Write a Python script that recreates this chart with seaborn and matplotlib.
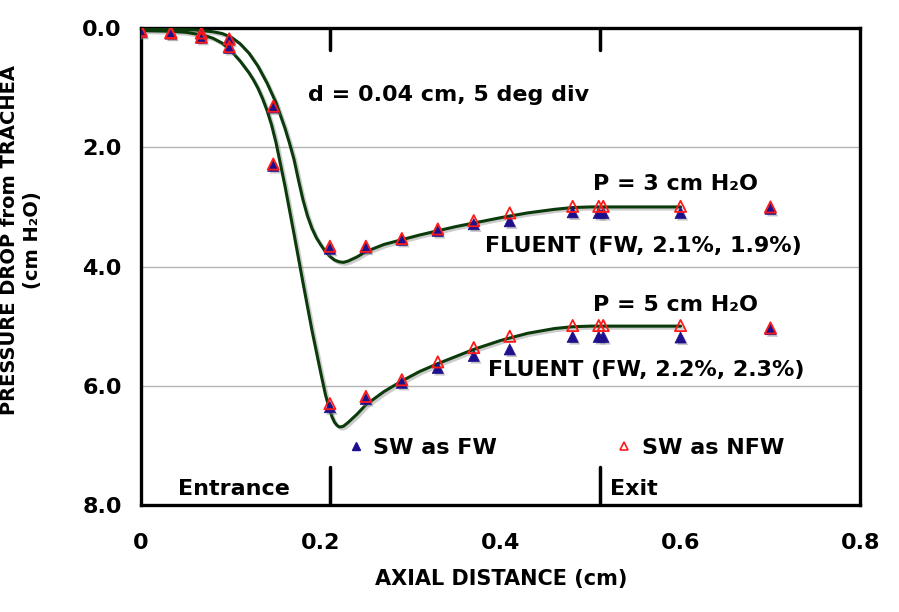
import matplotlib
matplotlib.use("Agg")
import matplotlib.pyplot as plt
import matplotlib.patheffects as pe
from matplotlib.lines import Line2D
import seaborn as sns

# FLUENT curves
fl3_x = [0.0, 0.03, 0.06, 0.08, 0.09, 0.10, 0.11, 0.12, 0.13, 0.14, 0.15, 0.16, 0.165,
         0.17, 0.175, 0.18, 0.185, 0.19, 0.195, 0.20, 0.205, 0.21, 0.215, 0.22, 0.225,
         0.23, 0.24, 0.25, 0.27, 0.29, 0.31, 0.33, 0.35, 0.37, 0.40, 0.43, 0.46, 0.48,
         0.50, 0.55, 0.60]
fl3_y = [0.02, 0.02, 0.03, 0.06, 0.09, 0.15, 0.26, 0.42, 0.64, 0.92, 1.25, 1.68, 1.93,
         2.20, 2.55, 2.88, 3.15, 3.36, 3.52, 3.64, 3.75, 3.83, 3.89, 3.92, 3.93,
         3.91, 3.84, 3.75, 3.63, 3.55, 3.47, 3.40, 3.33, 3.27, 3.18, 3.10, 3.04, 3.01,
         3.00, 3.00, 3.00]
fl5_x = [0.0, 0.03, 0.05, 0.07, 0.08, 0.09, 0.10, 0.11, 0.12, 0.125, 0.13, 0.135, 0.14,
         0.145, 0.15, 0.16, 0.17, 0.18, 0.19, 0.20, 0.205, 0.21, 0.2125, 0.215, 0.2175,
         0.22, 0.2225, 0.225, 0.23, 0.24, 0.25, 0.27, 0.29, 0.31, 0.33, 0.35, 0.37, 0.40,
         0.43, 0.46, 0.48, 0.50, 0.55, 0.60]
fl5_y = [0.04, 0.05, 0.07, 0.12, 0.17, 0.25, 0.38, 0.55, 0.75, 0.87, 1.01, 1.18, 1.38,
         1.62, 1.92, 2.65, 3.45, 4.27, 5.07, 5.80, 6.15, 6.42, 6.53, 6.61, 6.66,
         6.69, 6.69, 6.68, 6.62, 6.48, 6.32, 6.10, 5.92, 5.76, 5.63, 5.51, 5.39, 5.24,
         5.12, 5.04, 5.01, 5.00, 5.00, 5.00]

# SW points
pts_x = [0.0, 0.033, 0.067, 0.098, 0.147, 0.21, 0.25, 0.29, 0.33, 0.37, 0.41, 0.48,
         0.509, 0.514, 0.6, 0.7]
p3_fw = [0.05, 0.08, 0.09, 0.19, 1.33, 3.70, 3.68, 3.55, 3.40, 3.29, 3.24, 3.09,
         3.10, 3.10, 3.10, 3.03]
p3_nfw = [0.04, 0.07, 0.08, 0.18, 1.31, 3.66, 3.66, 3.53, 3.37, 3.23, 3.10, 2.99,
          2.99, 2.99, 2.99, 3.00]
p5_fw = [0.06, 0.09, 0.16, 0.33, 2.31, 6.36, 6.22, 5.95, 5.70, 5.50, 5.39, 5.18,
         5.18, 5.18, 5.19, 5.05]
p5_nfw = [0.05, 0.08, 0.15, 0.31, 2.28, 6.30, 6.18, 5.90, 5.60, 5.36, 5.17, 4.99,
          4.99, 4.99, 4.99, 5.03]

boundaries = [0.21, 0.51]
x_ticks = [0, 0.2, 0.4, 0.6, 0.8]
x_labels = ["0", "0.2", "0.4", "0.6", "0.8"]
y_ticks = [0, 2, 4, 6, 8]
y_labels = ["0.0", "2.0", "4.0", "6.0", "8.0"]

sns.set_style("white")
plt.rcParams["font.family"] = ["DejaVu Sans"]
plt.rcParams["font.weight"] = "bold"
for k in ["text.color", "axes.labelcolor", "xtick.color", "ytick.color"]:
    plt.rcParams[k] = "black"

fw_col = "#1e108c"
nfw_col = "#ff1a1a"
line_col = "#0b3a0b"

fig = plt.figure(figsize=(8.99, 6.12), dpi=100)
ax = fig.add_axes([0.157, 0.175, 0.8, 0.779])

for yv in y_ticks[1:-1]:
    ax.axhline(yv, color="#b4b4b4", lw=1, zorder=0)

shadow_line = [pe.SimpleLineShadow(offset=(1.5, -1.5), shadow_color="gray", alpha=0.4), pe.Normal()]
for fx, fy in [(fl3_x, fl3_y), (fl5_x, fl5_y)]:
    sns.lineplot(x=fx, y=fy, ax=ax, sort=False, estimator=None, color=line_col, lw=2.2,
                 path_effects=shadow_line, zorder=3)

shadow_pt = [pe.SimplePatchShadow(offset=(1.5, -1.5), shadow_rgbFace="gray", alpha=0.45), pe.Normal()]
for ys in [p3_fw, p5_fw]:
    sns.scatterplot(x=pts_x, y=ys, ax=ax, marker="^", s=65, color=fw_col,
                    edgecolor=fw_col, linewidth=0.5, zorder=4)
    ax.collections[-1].set_path_effects(shadow_pt)
for ys in [p3_nfw, p5_nfw]:
    sns.scatterplot(x=pts_x, y=ys, ax=ax, marker="^", s=65, color=nfw_col,
                    edgecolor=nfw_col, linewidth=1.3, zorder=5)
    ax.collections[-1].set_facecolor("none")

for b in boundaries:
    ax.axvline(b, ymin=0.955, ymax=1, color="black", lw=2.5, zorder=6)
    ax.axvline(b, ymin=0, ymax=0.08, color="black", lw=2.5, zorder=6)

ax.set_xlim(0, 0.8)
ax.set_ylim(8, 0)
ax.set_xticks(x_ticks)
ax.set_xticklabels(x_labels)
ax.set_yticks(y_ticks)
ax.set_yticklabels(y_labels)
ax.tick_params(axis="x", direction="in", length=6, width=1.5, labelsize=16, pad=20)
ax.tick_params(axis="y", direction="out", length=7, width=1.5, labelsize=16, pad=7)
for lab in ax.get_xticklabels() + ax.get_yticklabels():
    lab.set_fontweight("bold")
for s in ax.spines.values():
    s.set_linewidth(2.4)
    s.set_color("black")

ax.set_xlabel("AXIAL DISTANCE (cm)", fontsize=15, fontweight="bold", labelpad=12)
ax.set_ylabel("PRESSURE DROP from TRACHEA\n(cm H\u2082O)", fontsize=14, fontweight="bold",
              linespacing=1.25)
ax.yaxis.set_label_coords(-0.138, 0.555)

tkw = dict(fontsize=16, fontweight="bold", va="center", ha="left")
ax.text(0.186, 1.12, "d = 0.04 cm, 5 deg div", **tkw)
ax.text(0.503, 2.62, "P = 3 cm H\u2082O", **tkw)
ax.text(0.383, 3.66, "FLUENT (FW, 2.1%, 1.9%)", **tkw)
ax.text(0.503, 4.65, "P = 5 cm H\u2082O", **tkw)
ax.text(0.386, 5.74, "FLUENT (FW, 2.2%, 2.3%)", **tkw)
ax.text(0.041, 7.73, "Entrance", **tkw)
ax.text(0.522, 7.73, "Exit", **tkw)

handles = [
    Line2D([], [], ls="none", marker="^", markersize=6, color=fw_col, label="SW as FW"),
    Line2D([], [], ls="none", marker="^", markersize=6, markerfacecolor="none",
           markeredgecolor=nfw_col, markeredgewidth=1.2, label="SW as NFW"),
]
leg = ax.legend(handles=handles, ncol=2, frameon=False, loc="center",
                bbox_to_anchor=(0.59, 0.12), fontsize=16, handlelength=0.8,
                handletextpad=0.4, columnspacing=5.3)
for t in leg.get_texts():
    t.set_fontweight("bold")

fig.savefig("out.png", dpi=100)
